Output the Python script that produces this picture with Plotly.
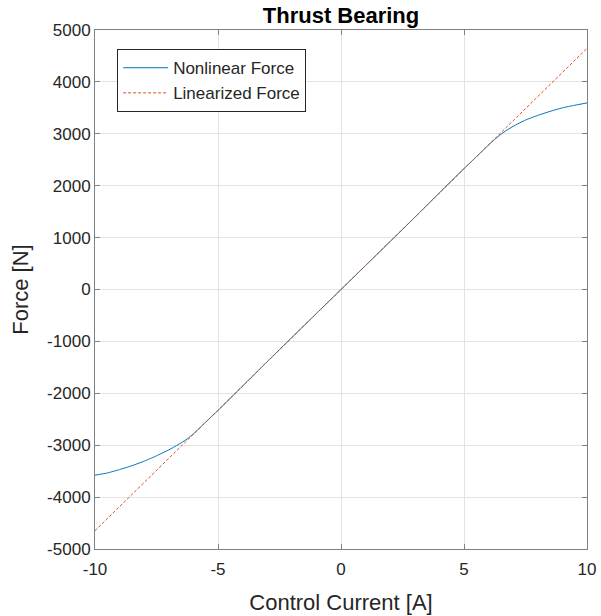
import plotly.graph_objects as go

# Control current [A] and nonlinear force [N]
current_nl = [-10, -9.5, -9, -8.5, -8, -7.5, -7, -6.75, -6.5, -6.25, -6, -5.5, -5, -4, -3, -2, -1, 0,
              1, 2, 3, 4, 5, 5.5, 6, 6.25, 6.5, 6.75, 7, 7.5, 8, 8.5, 9, 9.5, 10]
force_nl = [-3578, -3535, -3470, -3395, -3308, -3205, -3090, -3025, -2955, -2878, -2782, -2556, -2330,
            -1862, -1390, -925, -462, 0,
            462, 925, 1390, 1862, 2330, 2556, 2785, 2893, 2990, 3073, 3145, 3265, 3355, 3432, 3500, 3550, 3595]

# Linearized force
current_lin = [-10, 0, 10]
force_lin = [-4647, 0, 4647]

x_ticks = [-10, -5, 0, 5, 10]
y_ticks = [-5000, -4000, -3000, -2000, -1000, 0, 1000, 2000, 3000, 4000, 5000]

FONT = "Liberation Sans, Arial, Helvetica"

fig = go.Figure()
fig.add_trace(go.Scatter(x=current_nl, y=force_nl, mode="lines", name="Nonlinear Force",
                         line=dict(color="#0072BD", width=1, shape="spline", smoothing=0.5)))
fig.add_trace(go.Scatter(x=current_lin, y=force_lin, mode="lines", name="Linearized Force",
                         line=dict(color="#D95319", width=1, dash="3px,2px")))

axis_common = dict(showline=True, linecolor="#808080", linewidth=1, mirror="ticks",
                   ticks="inside", ticklen=5, tickcolor="#808080",
                   showgrid=True, gridcolor="#e3e3e3", gridwidth=1, zeroline=False,
                   automargin=False,
                   tickfont=dict(size=17, color="#262626", family=FONT))

fig.update_xaxes(range=[-10, 10], tickvals=x_ticks, ticktext=[str(v) for v in x_ticks],
                 ticklabelstandoff=5,
                 title=dict(text="Control Current [A]", font=dict(size=22, color="#262626", family=FONT), standoff=16),
                 **axis_common)
fig.update_yaxes(range=[-5000, 5000], tickvals=y_ticks, ticktext=[str(v) for v in y_ticks],
                 title=dict(text="Force [N]", font=dict(size=22, color="#262626", family=FONT), standoff=12),
                 **axis_common)

fig.update_layout(
    width=601, height=616,
    margin=dict(l=95, r=14, t=30, b=67),
    paper_bgcolor="white", plot_bgcolor="white",
    font=dict(family=FONT, color="#262626"),
    title=dict(text="<b>Thrust Bearing</b>", x=0.5, xanchor="center", xref="paper",
               yref="container", y=1 - 15.6 / 616, yanchor="middle",
               font=dict(size=22, color="black", family=FONT)),
    showlegend=True,
    legend=dict(x=0.045, y=0.963, xanchor="left", yanchor="top",
                bgcolor="white", bordercolor="#262626", borderwidth=1,
                font=dict(size=17, color="#262626", family=FONT), tracegroupgap=0,
                itemwidth=45),
)

# remove the default 8px page margin so the figure sits at the window's top-left corner
fig.write_html("out.html", config={"displayModeBar": False},
               post_script="document.body.style.margin='0';")
